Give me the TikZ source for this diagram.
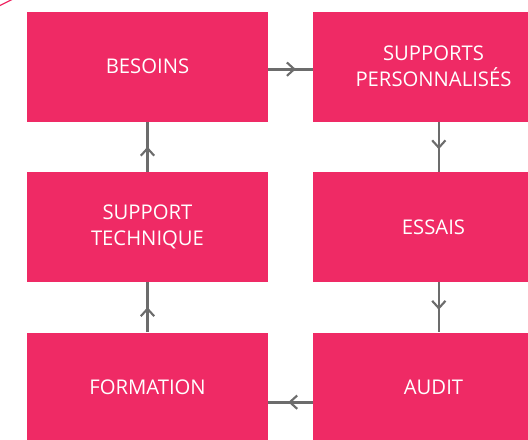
\documentclass[tikz,border=0pt]{standalone}
\usepackage{fontspec}
\setmainfont{Open Sans}
\usetikzlibrary{decorations.markings,arrows.meta}

\definecolor{boxpink}{RGB}{239,42,101}
\definecolor{flowgray}{RGB}{108,108,108}

\tikzset{
  stage/.style={fill=boxpink, text=white, inner sep=0pt,
    minimum width=180.75pt, minimum height=82.5pt, align=center,
    font=\fontsize{15.2}{19.5}\selectfont},
  flow/.style={flowgray, line width=2pt, postaction={decorate},
    decoration={markings, mark=at position #1 with
      {\arrow{Straight Barb[length=5.5pt,width=10pt,line width=1.6pt]}}}},
  flow/.default=0.55
}

\begin{document}
\begin{tikzpicture}[x=0.75pt,y=-0.75pt]


    \useasboundingbox (0,0) rectangle (528,439);
    \clip (0,0) rectangle (528,439);

    \pgfmathsetmacro{\xl}{147.5}
    \pgfmathsetmacro{\xr}{433.5}

    % bit of the outer border
    \draw[boxpink, line width=0.9pt] (-2,6.5) .. controls (4,3.5) .. (13,-1);

    \node[stage] (besoins)   at (\xl,66.5)  {BESOINS};
    \node[stage] (supports)  at (\xr,66.5)  {SUPPORTS\\PERSONNALISÉS};
    \node[stage] (technique) at (\xl,227)   {SUPPORT\\TECHNIQUE};
    \node[stage] (essais)    at (\xr,227)   {ESSAIS};
    \node[stage] (formation) at (\xl,387.5) {FORMATION};
    \node[stage] (audit)     at (\xr,387.5) {AUDIT};

    \draw[flow=0.62] ([yshift=-2pt]besoins.east) -- ([yshift=-2pt]supports.west);
    \draw[flow] ([xshift=4pt]supports.south) -- ([xshift=4pt]essais.north);
    \draw[flow] ([xshift=4pt]essais.south) -- ([xshift=4pt]audit.north);
    \draw[flow] ([yshift=-11pt]audit.west) -- ([yshift=-11pt]formation.east);
    \draw[flow=0.5] (formation.north) -- (technique.south);
    \draw[flow=0.5] (technique.north) -- (besoins.south);




\end{tikzpicture}
\end{document}
